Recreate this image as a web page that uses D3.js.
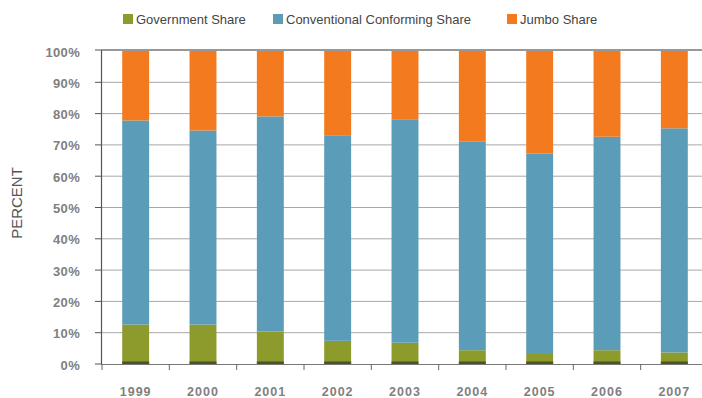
<!DOCTYPE html>
<html>
<head>
<meta charset="utf-8">
<script src="https://cdn.jsdelivr.net/npm/d3@7"></script>
<style>
  body { margin: 0; background: #fff; }
  text { font-family: "Liberation Sans", Arial, sans-serif; }
</style>
</head>
<body>
<svg id="chart" width="702" height="398"></svg>
<script>
var years = ['1999', '2000', '2001', '2002', '2003', '2004', '2005', '2006', '2007']
var government = [12.6, 12.6, 10.4, 7.4, 6.8, 4.4, 3.2, 4.4, 3.7]
var conventional = [65.2, 62.0, 68.7, 65.5, 71.4, 66.6, 64.0, 68.2, 71.6]
var jumbo = [22.2, 25.4, 20.9, 27.1, 21.8, 29.0, 32.8, 27.4, 24.7]
var yTicks = [0, 10, 20, 30, 40, 50, 60, 70, 80, 90, 100]

var seriesNames = ['Government Share', 'Conventional Conforming Share', 'Jumbo Share']
var colors = ['#8d9a2c', '#5b9db9', '#f47a20']

var svg = d3.select('#chart')

var x = d3.scaleBand().domain(years).range([102, 708])
    .paddingInner(0.6).paddingOuter(0.3)
var y = d3.scaleLinear().domain([0, 100]).range([364, 51])

var rows = years.map(function (yr, i) {
    return { year: yr, g: government[i], c: conventional[i], j: jumbo[i] }
})
var stack = d3.stack().keys(['g', 'c', 'j'])(rows)

// grid lines
svg.append('g').selectAll('line')
    .data(yTicks.filter(function (d) { return d > 0 && d < 100 }))
    .enter().append('line')
    .attr('x1', 102).attr('x2', 702)
    .attr('y1', function (d) { return y(d) }).attr('y2', function (d) { return y(d) })
    .attr('stroke', '#a8a8a8').attr('stroke-width', 1)

// bars
svg.append('g').selectAll('g')
    .data(stack).enter().append('g')
    .attr('fill', function (d, i) { return colors[i] })
    .selectAll('rect')
    .data(function (d) { return d }).enter().append('rect')
    .attr('x', function (d) { return x(d.data.year) })
    .attr('width', x.bandwidth())
    .attr('y', function (d) { return y(d[1]) })
    .attr('height', function (d) { return y(d[0]) - y(d[1]) })

// dark base strip on each bar
svg.append('g').selectAll('rect')
    .data(years).enter().append('rect')
    .attr('x', function (d) { return x(d) })
    .attr('width', x.bandwidth())
    .attr('y', y(0) - 2.5).attr('height', 2.5)
    .attr('fill', '#4d5420')

// top line
svg.append('line')
    .attr('x1', 101).attr('x2', 702)
    .attr('y1', y(100) - 1).attr('y2', y(100) - 1)
    .attr('stroke', '#333').attr('stroke-width', 1.2)

// y axis
var yAxis = svg.append('g')
yAxis.append('line')
    .attr('x1', 101.5).attr('x2', 101.5)
    .attr('y1', y(100) - 1).attr('y2', y(0) + 1)
    .attr('stroke', '#555').attr('stroke-width', 1.2)
yAxis.selectAll('.tick').data(yTicks).enter().append('line')
    .attr('x1', 95).attr('x2', 101)
    .attr('y1', function (d) { return d == 100 ? y(d) - 1 : y(d) })
    .attr('y2', function (d) { return d == 100 ? y(d) - 1 : y(d) })
    .attr('stroke', '#555')
yAxis.selectAll('text').data(yTicks).enter().append('text')
    .attr('x', 80).attr('y', function (d) { return y(d) + 1 })
    .attr('dy', '0.35em')
    .attr('text-anchor', 'end')
    .attr('fill', '#808080')
    .style('font-size', '13px')
    .style('font-weight', 'bold')
    .style('letter-spacing', '0.3px')
    .text(function (d) { return d + '%' })

// x axis
var xAxis = svg.append('g')
xAxis.append('line')
    .attr('x1', 101).attr('x2', 702)
    .attr('y1', y(0) + 0.5).attr('y2', y(0) + 0.5)
    .attr('stroke', '#777').attr('stroke-width', 1.2)
xAxis.selectAll('.tick').data(years).enter().append('line')
    .attr('x1', function (d) { return x(d) - x.step() * 0.3 })
    .attr('x2', function (d) { return x(d) - x.step() * 0.3 })
    .attr('y1', y(0)).attr('y2', y(0) + 6)
    .attr('stroke', '#666')
xAxis.selectAll('text').data(years).enter().append('text')
    .attr('x', function (d) { return x(d) + x.bandwidth() / 2 })
    .attr('y', 396)
    .attr('text-anchor', 'middle')
    .attr('fill', '#808080')
    .style('font-size', '12.5px')
    .style('font-weight', 'bold')
    .style('letter-spacing', '1px')
    .text(function (d) { return d })

// y title
svg.append('text')
    .attr('transform', 'translate(22,203) rotate(-90)')
    .attr('text-anchor', 'middle')
    .attr('fill', '#555')
    .style('font-size', '15px')
    .text('PERCENT')

// legend
var legendX = [123, 273, 507]
var legend = svg.append('g').selectAll('g')
    .data(seriesNames).enter().append('g')
    .attr('transform', function (d, i) { return 'translate(' + legendX[i] + ',14)' })
legend.append('rect')
    .attr('width', 10).attr('height', 10)
    .attr('fill', function (d, i) { return colors[i] })
legend.append('text')
    .attr('x', 13).attr('y', 5).attr('dy', '0.35em')
    .attr('fill', '#444')
    .style('font-size', '13px')
    .text(function (d) { return d })
</script>
</body>
</html>
